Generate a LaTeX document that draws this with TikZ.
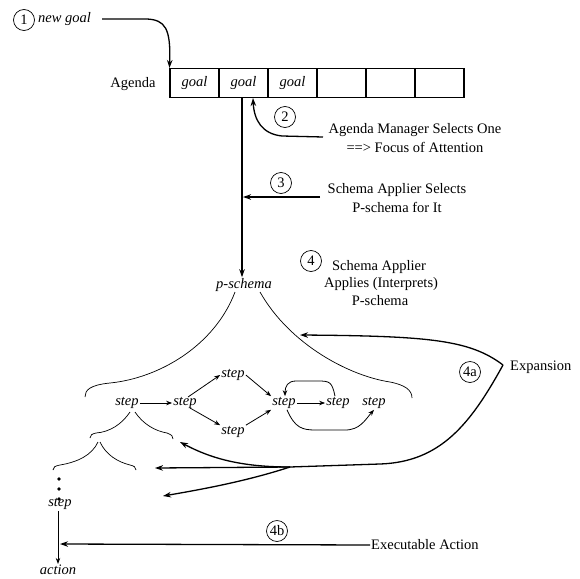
\documentclass[tikz,border=0pt]{standalone}
\usepackage{fontspec}
\setmainfont{Liberation Serif}
\usetikzlibrary{arrows.meta}
\begin{document}
\begin{tikzpicture}[x=1pt,y=-1pt,
  every node/.style={font=\fontsize{14.5}{17}\selectfont},
  lbl/.style={inner sep=1pt},
  it/.style={font=\fontsize{14.5}{17}\selectfont\itshape,inner sep=1pt},
  num/.style={draw,circle,line width=0.7pt,minimum size=21pt,inner sep=0pt},
  cell/.style={draw,line width=1.1pt,minimum width=49pt,minimum height=29pt,inner sep=0pt,font=\fontsize{14.5}{17}\selectfont\itshape},
  big/.style={line width=1.3pt,-{Stealth[length=8pt,width=5.5pt]}},
  thin/.style={line width=0.8pt,-{Stealth[length=6pt,width=4.5pt]}},
  brace/.style={line width=0.7pt},
  line/.style={line width=1.3pt}]
\useasboundingbox (0,0) rectangle (580,578);

% step 1
\node[num] (c1) at (24,20) {1};
\node[it,anchor=west] (newgoal) at (37,19) {new goal};
\coordinate (ngs) at (102,19);
% agenda
\node[lbl] (agenda) at (133,84) {Agenda};
\node[cell] (g1) at (194.5,83) {goal};
\node[cell] (g2) at (243.5,83) {goal};
\node[cell] (g3) at (292.5,83) {goal};
\node[cell] (g4) at (341.5,83) {};
\node[cell] (g5) at (390.5,83) {};
\node[cell] (g6) at (439.5,83) {};
\draw[big] (ngs) -- (147,19) .. controls (165,20) and (171,28) .. (g1.north west);

% step 2
\node[num] (c2) at (285,117) {2};
\node[lbl] (t2a) at (415,130) {Agenda Manager Selects One};
\node[lbl] (t2b) at (415,147) {==> Focus of Attention};
\coordinate (a2s) at (323,137);
\coordinate (a2e) at (253,98);
\draw[big] (a2s) -- (282,136) .. controls (262,134) and (254,120) .. (a2e);

% step 3
\node[num] (c3) at (281,183) {3};
\node[lbl] (t3a) at (397,190) {Schema Applier Selects};
\node[lbl] (t3b) at (397,207) {P-schema for It};
\coordinate (a3s) at (320,197);
\coordinate (a3e) at (243,197);
\draw[big] (a3s) -- (a3e);

% step 4
\node[num] (c4) at (311,261) {4};
\node[lbl] (t4a) at (379,267) {Schema Applier};
\node[lbl] (t4b) at (381,284) {Applies (Interprets)};
\node[lbl] (t4c) at (380,301) {P-schema};

\node[it] (ps) at (244,285) {p-schema};
\draw[big] (242,97) -- (ps.north -| 242,0);

% big braces
\draw[brace] (235,292) .. controls (215,345) and (160,378) .. (110,383) .. controls (90,385) and (85,390) .. (85,397);
\draw[brace] (260,292) .. controls (290,345) and (350,376) .. (390,382) .. controls (405,385) and (412,390) .. (412,398);

% steps
\node[it] (s1) at (127,403) {step};
\node[it] (s2) at (185,403) {step};
\node[it] (sT) at (233,375) {step};
\node[it] (sB) at (233,432) {step};
\node[it] (sC) at (284,403) {step};
\node[it] (sR1) at (338,403) {step};
\node[it] (sR2) at (374,403) {step};
\draw[thin] (s1) -- (s2);
\draw[thin] (188,397) -- (sT.west);
\draw[thin] (190,408) -- (sB.north west);
\draw[thin] (sT.east) -- (sC.north west);
\draw[thin] (sB.north east) -- (sC.south west);
\draw[thin] (sC) -- (sR1);
\draw[thin] ([xshift=-3pt]sR1.north) .. controls (332,382) and (330,381) .. (318,381) -- (296,381) .. controls (288,381) and (285,386) .. ([xshift=1pt]sC.north);
\draw[thin] ([xshift=3pt]sC.south) .. controls (295,428) and (302,430) .. (316,430) -- (345,430) .. controls (360,430) and (365,420) .. (sR2.south);

% sub braces
\draw[brace] (130,412) .. controls (122,424) and (110,432) .. (96,433) .. controls (92,434) and (90,435) .. (90,438);
\draw[brace] (135,412) .. controls (143,424) and (155,431) .. (167,433) .. controls (172,435) and (173,436) .. (173,439);
\draw[brace] (98,442) .. controls (92,455) and (78,462) .. (60,465) .. controls (55,466) and (53,467) .. (53,470);
\draw[brace] (100,442) .. controls (106,455) and (118,462) .. (130,465) .. controls (134,466) and (136,467) .. (136,470);

% dots & lower step
\fill (59,479) circle (1.9);
\fill (59,489) circle (1.9);
\fill (59,499) circle (1.9);
\node[it] (sL) at (60,504) {step};
\node[it] (act) at (58,570) {action};
\draw[thin] (58,511) -- (act.north);

% expansion
\node[num] (c4a) at (470,372) {4a};
\node[lbl,anchor=west] (exp) at (509,367) {Expansion};
\coordinate (P) at (503,365);
\coordinate (J) at (290,467);
\coordinate (e0) at (300,335);
\coordinate (e1) at (180,442);
\coordinate (e2) at (155,468);
\coordinate (e3) at (163,496);
\draw[big] (P) .. controls (470,340) and (430,336) .. (e0);
\draw[line] (P) .. controls (470,425) and (440,462) .. (380,464) -- (J);
\draw[big] (J) .. controls (240,467) and (210,458) .. (e1);
\draw[big] (J) -- (e2);
\draw[big] (J) .. controls (250,480) and (210,488) .. (e3);

% 4b
\node[num] (c4b) at (277,531) {4b};
\node[lbl,anchor=west] (exe) at (370,545) {Executable Action};
\coordinate (b0) at (60,544);
\draw[big] (exe.west) -- (b0);
\end{tikzpicture}
\end{document}
